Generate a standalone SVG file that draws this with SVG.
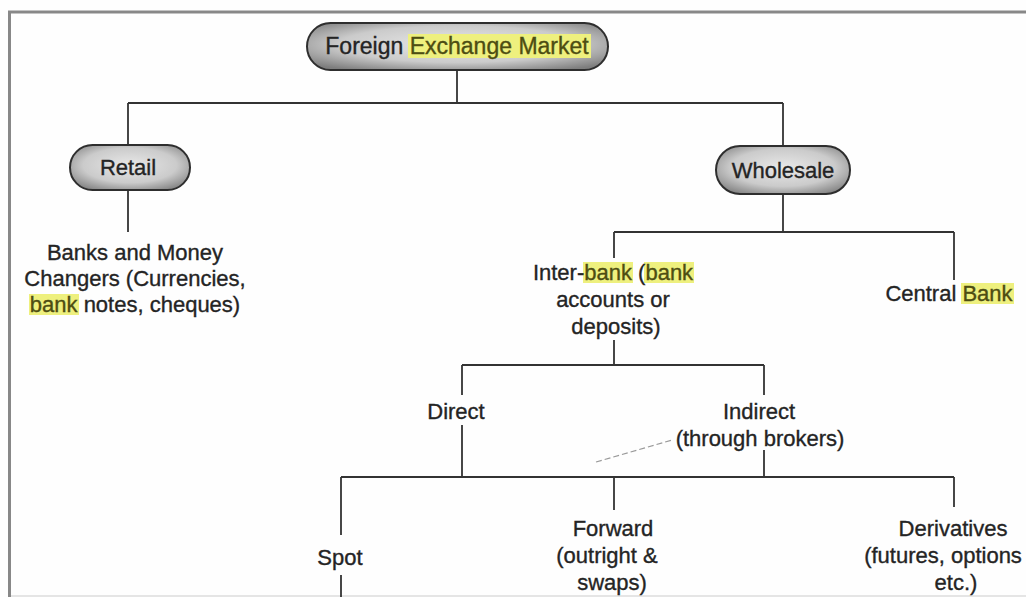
<svg xmlns="http://www.w3.org/2000/svg" width="1026" height="597" viewBox="0 0 1026 597">
<defs>
<radialGradient id="pill" cx="0.5" cy="0.45" r="0.65">
<stop offset="0" stop-color="#e8e8e8"/>
<stop offset="0.6" stop-color="#cbcbcb"/>
<stop offset="1" stop-color="#7e7e7e"/>
</radialGradient>
<style>
.pill{fill:url(#pill);stroke:#2e2e2e;stroke-width:2}
.t{font-family:"Liberation Sans",Arial,sans-serif;font-size:22px;fill:#242424;stroke:#242424;stroke-width:0.35;text-anchor:middle}
.hl{fill:#eef07e}
.h{fill:#4d4d12;stroke:#4d4d12}
.c{fill:none;stroke:#333;stroke-width:1.8}
.frame{stroke:#888;stroke-width:3;fill:none}
</style>
</defs>
<rect width="1026" height="597" fill="#fefefe"/>
<g id="frame">
<line class="frame" x1="8" y1="12" x2="1026" y2="12"/>
<line class="frame" x1="9.5" y1="12" x2="9.5" y2="597"/>
<line x1="11" y1="596" x2="1026" y2="596" stroke="#ddd" stroke-width="1.5"/>
</g>
<g id="connectors">
<path class="c" d="M457 70V103M128 103H783M128 103V145M783 103V146"/>
<path class="c" d="M128 190V232"/>
<path class="c" d="M783 195V232M614 232H954M614 232V258M954 232V280"/>
<path class="c" d="M614 340V365M462 365H764M462 365V395M764 365V395"/>
<path class="c" d="M462 425V477M764 450V477M341 477H954M341 477V535M614 477V510M954 477V507"/>
<path class="c" d="M341 575V597"/>
<path d="M596 462L672 440" stroke="#9a9a9a" stroke-width="1.2" stroke-dasharray="6 3" fill="none"/>
</g>
<g id="n-fem">
<rect class="pill" x="307" y="23" width="301" height="47" rx="23.5"/>
<rect class="hl" x="408" y="34" width="183" height="24"/>
<text class="t" x="457" y="54" style="font-size:23px">Foreign <tspan class="h">Exchange Market</tspan></text>
</g>
<g id="n-retail">
<rect class="pill" x="70" y="145" width="120" height="45" rx="22.5"/>
<text class="t" x="128" y="175">Retail</text>
</g>
<g id="n-banks">
<rect class="hl" x="29" y="294" width="50" height="21"/>
<text class="t" x="135" y="260">Banks and Money</text>
<text class="t" x="135" y="286">Changers (Currencies,</text>
<text class="t" x="135" y="312"><tspan class="h">bank</tspan> notes, cheques)</text>
</g>
<g id="n-wholesale">
<rect class="pill" x="716" y="146" width="134" height="48" rx="24"/>
<text class="t" x="783" y="178">Wholesale</text>
</g>
<g id="n-interbank">
<rect class="hl" x="583" y="262" width="50" height="21"/>
<rect class="hl" x="644" y="262" width="50" height="21"/>
<text class="t" x="613" y="280">Inter-<tspan class="h">bank</tspan> (<tspan class="h">bank</tspan></text>
<text class="t" x="613" y="307">accounts or</text>
<text class="t" x="616" y="334">deposits)</text>
</g>
<g id="n-central">
<rect class="hl" x="961" y="283" width="53" height="21"/>
<text class="t" x="949" y="301">Central <tspan class="h">Bank</tspan></text>
</g>
<g id="n-direct">
<text class="t" x="456" y="419">Direct</text>
</g>
<g id="n-indirect">
<text class="t" x="759" y="419">Indirect</text>
<text class="t" x="760" y="446">(through brokers)</text>
</g>
<g id="n-spot">
<text class="t" x="340" y="565">Spot</text>
</g>
<g id="n-forward">
<text class="t" x="613" y="536">Forward</text>
<text class="t" x="607" y="563">(outright &amp;</text>
<text class="t" x="612" y="590">swaps)</text>
</g>
<g id="n-derivatives">
<text class="t" x="953" y="536">Derivatives</text>
<text class="t" x="943" y="563">(futures, options</text>
<text class="t" x="956" y="590">etc.)</text>
</g>
</svg>
